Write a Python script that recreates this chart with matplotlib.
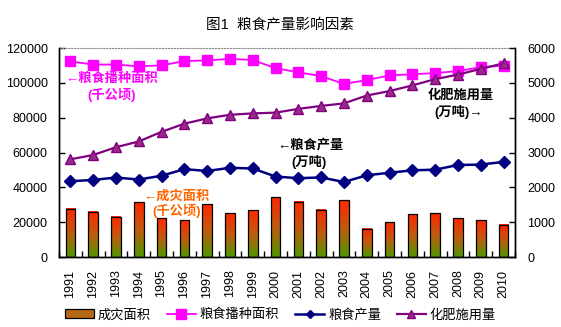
"""
Grain output factors chart: disaster area bars, sown area, grain output
and fertilizer use by year.
"""
import numpy as np
import matplotlib
matplotlib.use("Agg")
import matplotlib.pyplot as plt
from matplotlib.colors import LinearSegmentedColormap
from matplotlib.patches import Patch
from matplotlib.lines import Line2D

plt.rcParams["font.family"] = ["Liberation Sans", "Noto Sans CJK SC", "DejaVu Sans"]

years = [str(y) for y in range(1991, 2011)]
disaster_area = [27814, 25893, 23133, 31383, 22268, 21233, 30309, 25181,
                 26734, 34374, 31793, 27160, 32516, 16297, 19966, 24632,
                 25064, 22283, 21234, 18538]
sown_area = [112314, 110560, 110509, 109544, 110060, 112548, 112912, 113787,
             113161, 108463, 106080, 103891, 99410, 101606, 104278, 104958,
             105638, 106793, 108986, 109876]
grain_output = [43529, 44266, 45649, 44510, 46662, 50454, 49417, 51230,
                50839, 46218, 45264, 45706, 43070, 46947, 48402, 49804,
                50160, 52871, 53082, 54648]
fertilizer = [2805, 2930, 3152, 3318, 3594, 3828, 3981, 4084, 4124, 4146,
              4254, 4339, 4412, 4637, 4766, 4928, 5108, 5239, 5404, 5562]
series_names = ["成灾面积", "粮食播种面积", "粮食产量", "化肥施用量"]


def main():
    fig = plt.figure(figsize=(5.61, 3.27), dpi=100)
    ax = fig.add_axes([0.105, 0.214, 0.813, 0.639])
    ax2 = ax.twinx()
    x = np.arange(len(years))

    # bars with red->green gradient
    grad = LinearSegmentedColormap.from_list(
        "bar", ["#4f9800", "#c05a10", "#ff2800"])
    g = np.linspace(0, 1, 64).reshape(-1, 1)
    width = 0.42
    for xi, v in zip(x, disaster_area):
        ax.imshow(g, cmap=grad, aspect="auto", origin="lower",
                  extent=[xi - width / 2, xi + width / 2, 0, v], zorder=1)
    ax.bar(x, disaster_area, width=width, facecolor="none",
           edgecolor="black", linewidth=0.9, zorder=2)

    ax.plot(x, sown_area, color="#ff00ff", lw=1.3, marker="s", ms=6.5,
            zorder=3)
    ax.plot(x, grain_output, color="#000080", lw=1.8, marker="D", ms=6,
            zorder=3)
    ax2.plot(x, fertilizer, color="#800080", lw=1.6, marker="^", ms=7.5,
             markerfacecolor="#9a2a8a", markeredgecolor="#800080")

    ax.set_xlim(-0.5, len(years) - 0.5)
    ax.set_ylim(0, 120000)
    ax2.set_ylim(0, 6000)
    ax.set_yticks(range(0, 120001, 20000))
    ax2.set_yticks(range(0, 6001, 1000))
    ax.set_xticks(x)
    ax.set_xticklabels(years, rotation=90, fontsize=9)
    ax.set_xticks(np.arange(-0.5, len(years)), minor=True)
    ax.tick_params(axis="x", which="major", length=0, pad=9)
    ax.tick_params(axis="x", which="minor", direction="in", length=4,
                   width=1)
    ax.tick_params(axis="y", direction="in", length=4, width=1,
                   labelsize=9, pad=8)
    ax2.tick_params(axis="y", direction="in", length=4, width=1,
                    labelsize=9, pad=9)

    for a in (ax, ax2):
        a.spines["left"].set_linewidth(1)
        a.spines["right"].set_linewidth(1)
        a.spines["bottom"].set_linewidth(1)
    ax.spines["top"].set_color("#888888")
    ax.spines["top"].set_linestyle(":")
    ax2.spines["top"].set_visible(False)

    fig.text(0.5, 0.925, "图1  粮食产量影响因素", ha="center", va="center",
             fontsize=10.5)

    # annotations
    kw = dict(fontsize=9.5, fontweight="bold", va="center")
    fig.text(112 / 561, 1 - 79 / 327, "←粮食播种面积", color="#ff00ff",
             ha="center", **kw)
    fig.text(112 / 561, 1 - 95 / 327, "(千公顷)", color="#ff00ff",
             ha="center", **kw)
    fig.text(176 / 561, 1 - 196 / 327, "←成灾面积", color="#ff6600",
             ha="center", **kw)
    fig.text(177 / 561, 1 - 211 / 327, "(千公顷)", color="#ff6600",
             ha="center", **kw)
    fig.text(310 / 561, 1 - 145 / 327, "←粮食产量", color="black",
             ha="center", **kw)
    fig.text(309 / 561, 1 - 162 / 327, "(万吨)", color="black",
             ha="center", **kw)
    fig.text(461 / 561, 1 - 96 / 327, "化肥施用量", color="black",
             ha="center", **kw)
    fig.text(459 / 561, 1 - 112 / 327, "(万吨)→", color="black",
             ha="center", **kw)

    handles = [
        Patch(facecolor="#b46a14", edgecolor="black", linewidth=0.9),
        Line2D([], [], color="#ff00ff", lw=1.3, marker="s", ms=6.5),
        Line2D([], [], color="#000080", lw=1.8, marker="D", ms=4.5),
        Line2D([], [], color="#800080", lw=1.6, marker="^", ms=6,
               markerfacecolor="#9a2a8a"),
    ]
    fig.legend(handles, series_names, loc="center", ncol=4,
               bbox_to_anchor=(0.5, 1 - 315 / 327), frameon=False,
               fontsize=9.5, handlelength=2.2, columnspacing=1.2,
               handletextpad=0.3)

    fig.savefig("out.png", dpi=100)


if __name__ == "__main__":
    main()
